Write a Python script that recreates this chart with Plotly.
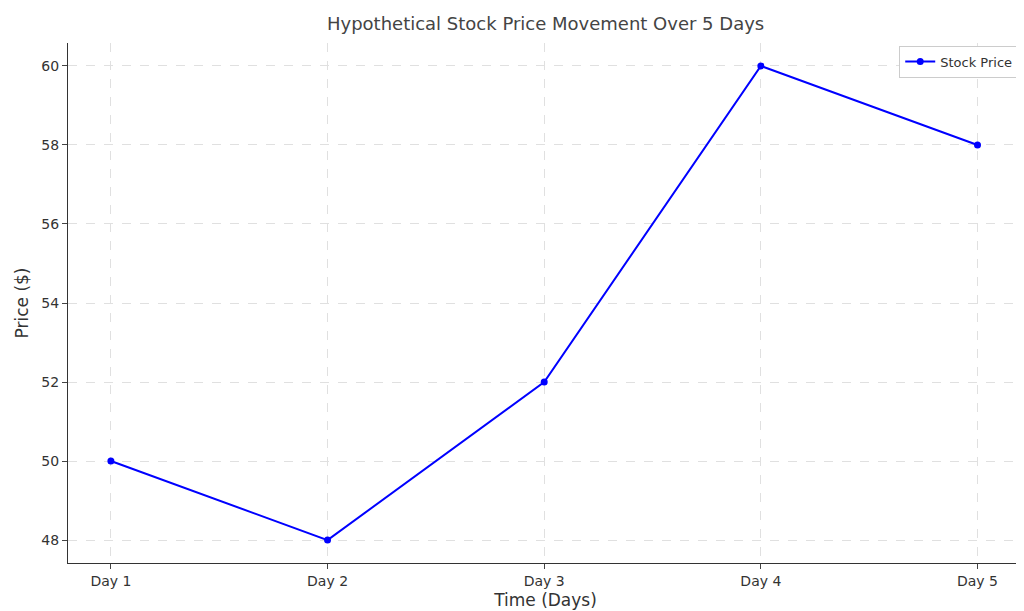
import plotly.graph_objects as go

days = ["Day 1", "Day 2", "Day 3", "Day 4", "Day 5"]
prices = [50, 48, 52, 60, 58]

fig = go.Figure()
fig.add_trace(go.Scatter(x=list(range(len(days))), y=prices, mode="lines+markers",
                         name="Stock Price", line=dict(color="blue", width=2),
                         marker=dict(color="blue", size=7)))
fig.update_layout(
    width=1024, height=611, plot_bgcolor="white", paper_bgcolor="white",
    margin=dict(l=60, r=9, t=35, b=56),
    font=dict(family="DejaVu Sans", color="#333333", size=14),
    title=dict(text="Hypothetical Stock Price Movement Over 5 Days", x=0.525, xanchor="center",
               y=0.985, yanchor="top", font=dict(size=18, color="#444444")),
    showlegend=True,
    legend=dict(x=0.995, y=0.995, xanchor="right", yanchor="top", bordercolor="#cccccc",
                borderwidth=1, font=dict(size=13)),
)
fig.update_xaxes(tickmode="array", tickvals=list(range(len(days))), ticktext=days,
                 range=[-0.198, 4.21], showline=True, linecolor="#333333", linewidth=1.2,
                 ticks="outside", ticklen=5, showgrid=True, gridcolor="#e0e0e0", griddash="dash",
                 zeroline=False, title=dict(text="Time (Days)", standoff=6))
fig.update_yaxes(range=[47.42, 60.58], dtick=2, showline=True, linecolor="#333333", linewidth=1.2,
                 ticks="outside", ticklen=5, showgrid=True, gridcolor="#e0e0e0", griddash="dash",
                 zeroline=False, title=dict(text="Price ($)", standoff=8))
fig.write_html("out.html")
